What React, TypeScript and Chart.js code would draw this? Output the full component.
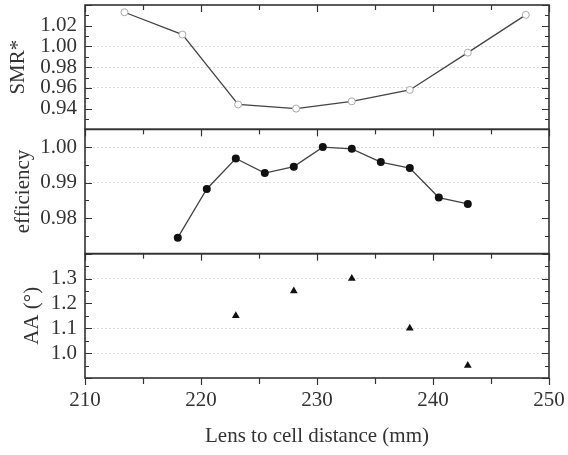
import { useEffect, useRef } from 'react';
import { Chart, registerables } from 'chart.js';
Chart.register(...registerables);

// ---- data ----
const smrX = [213.4, 218.4, 223.2, 228.2, 233, 238, 243, 248];
const smrY = [1.033, 1.0115, 0.944, 0.94, 0.947, 0.958, 0.994, 1.0305];
const effX = [218, 220.5, 223, 225.5, 228, 230.5, 233, 235.5, 238, 240.5, 243];
const effY = [0.9745, 0.9882, 0.9968, 0.9927, 0.9945, 1.0, 0.9995, 0.9958, 0.9941, 0.9858, 0.984];
const aaX = [223, 228, 233, 238, 243];
const aaY = [1.15, 1.25, 1.3, 1.1, 0.95];

const xMin = 210;
const xMax = 250;
const xStep = 10;
const xMinorStep = 5;
const xTitle = 'Lens to cell distance (mm)';

const panelIds = ['y1', 'y2', 'y3'];
const panelTitles = ['SMR*', 'efficiency', 'AA (°)'];
const yMins = [0.92, 0.97, 0.9];
const yMaxs = [1.04, 1.005, 1.4];
const ySteps = [0.02, 0.01, 0.1];
const yMinorSteps = [0.01, 0.005, 0.05];
const yDecimals = [2, 2, 1];
const gridValues = [[1.0, 0.98, 0.96], [1.0, 0.99], [1.3, 1.1, 1.0]];
const titlePads = [6, 11, 20];

const FONT = "'Liberation Serif', 'Times New Roman', serif";
const INK = '#333333';

const framePlugin = {
  id: 'frame',
  afterDraw(chart: any) {
    const ctx = chart.ctx;
    const xs = chart.scales.x;
    const left = xs.left;
    const right = xs.right;
    ctx.save();
    ctx.strokeStyle = INK;
    panelIds.forEach((id, i) => {
      const ys = chart.scales[id];
      const top = ys.top;
      const bottom = ys.bottom;
      ctx.lineWidth = 1.2;
      const n = Math.round((ys.max - ys.min) / yMinorSteps[i]);
      for (let k = 0; k <= n; k++) {
        const v = ys.min + k * yMinorSteps[i];
        const ratio = v / ySteps[i];
        const major = Math.abs(ratio - Math.round(ratio)) < 1e-6;
        const len = major ? 7 : 4;
        const py = Math.round(ys.getPixelForValue(v)) + 0.5;
        ctx.beginPath();
        ctx.moveTo(left, py);
        ctx.lineTo(left + len, py);
        ctx.moveTo(right, py);
        ctx.lineTo(right - len, py);
        ctx.stroke();
      }
      for (let v = xMin; v <= xMax; v += xMinorStep) {
        const major = v % xStep === 0;
        const len = major ? 7 : 5;
        const px = Math.round(xs.getPixelForValue(v)) + 0.5;
        ctx.beginPath();
        ctx.moveTo(px, top);
        ctx.lineTo(px, top + len);
        ctx.stroke();
      }
      ctx.lineWidth = 1.6;
      ctx.strokeRect(left, top, right - left, bottom - top);
    });
    ctx.lineWidth = 1.2;
    const yb = xs.top;
    for (let v = xMin; v <= xMax; v += xMinorStep) {
      const major = v % xStep === 0;
      const len = major ? 7 : 6;
      const px = Math.round(xs.getPixelForValue(v)) + 0.5;
      ctx.beginPath();
      ctx.moveTo(px, yb);
      ctx.lineTo(px, yb + len);
      ctx.stroke();
    }
    ctx.restore();
  },
};

export default function App() {
  const ref = useRef<HTMLCanvasElement | null>(null);

  useEffect(() => {
    document.body.style.margin = '0';
    const canvas = ref.current;
    if (!canvas) return;

    const yScales: any = {};
    // defined bottom panel first so the stack places y1 on top
    [...panelIds].reverse().forEach((id) => {
      const i = panelIds.indexOf(id);
      const eps = ySteps[i] * 1e-3;
      yScales[id] = {
        type: 'linear',
        position: 'left',
        stack: 'panels',
        stackWeight: 1,
        min: yMins[i],
        max: yMaxs[i],
        afterFit: (s: any) => {
          s.width = 85;
          s.paddingTop = 0;
          s.paddingBottom = 0;
        },
        ticks: {
          stepSize: ySteps[i],
          includeBounds: false,
          autoSkip: false,
          padding: 8,
          color: INK,
          font: { family: FONT, size: 21 },
          callback: (value: any) => {
            const v = Number(value);
            if (v <= yMins[i] + eps || v >= yMaxs[i] - eps) return '';
            return v.toFixed(yDecimals[i]);
          },
        },
        grid: {
          drawTicks: false,
          lineWidth: 1,
          color: (c: any) =>
            c.tick && gridValues[i].some((g) => Math.abs(g - c.tick.value) < 1e-6)
              ? '#dadada'
              : 'rgba(0,0,0,0)',
        },
        border: { display: false, dash: [2, 2] },
        title: {
          display: true,
          text: panelTitles[i],
          color: INK,
          font: { family: FONT, size: 21 },
          padding: { top: titlePads[i], bottom: 0 },
        },
      };
    });

    const chart = new Chart(canvas, {
      type: 'line',
      data: {
        datasets: [
          {
            label: 'SMR*',
            yAxisID: 'y1',
            data: smrX.map((x, i) => ({ x, y: smrY[i] })),
            borderColor: '#444',
            borderWidth: 1.3,
            pointStyle: 'circle',
            pointRadius: 3.5,
            pointBorderWidth: 1,
            pointBorderColor: '#a8a8a8',
            pointBackgroundColor: '#ffffff',
            tension: 0,
          },
          {
            label: 'efficiency',
            yAxisID: 'y2',
            data: effX.map((x, i) => ({ x, y: effY[i] })),
            borderColor: '#444',
            borderWidth: 1.3,
            pointStyle: 'circle',
            pointRadius: 4,
            pointBorderWidth: 0,
            pointBackgroundColor: '#111',
            tension: 0,
          },
          {
            label: 'AA',
            yAxisID: 'y3',
            data: aaX.map((x, i) => ({ x, y: aaY[i] })),
            showLine: false,
            pointStyle: 'triangle',
            pointRadius: 4.5,
            pointBorderWidth: 0,
            pointBackgroundColor: '#111',
            borderColor: '#111',
          },
        ],
      },
      options: {
        responsive: false,
        animation: false,
        layout: { padding: { top: 5, right: 19, left: 0, bottom: 0 } },
        plugins: { legend: { display: false }, tooltip: { enabled: false } },
        scales: {
          x: {
            type: 'linear',
            min: xMin,
            max: xMax,
            afterFit: (s: any) => {
              s.height = 77;
              s.paddingLeft = 0;
              s.paddingRight = 0;
            },
            ticks: {
              stepSize: xStep,
              autoSkip: false,
              padding: 10,
              color: INK,
              font: { family: FONT, size: 21 },
              maxRotation: 0,
            },
            grid: { display: false, drawTicks: false },
            border: { display: false },
            title: {
              display: true,
              text: xTitle,
              color: INK,
              font: { family: FONT, size: 21 },
              padding: { top: 0, bottom: 6 },
            },
          },
          ...yScales,
        },
      } as any,
      plugins: [framePlugin],
    });
    return () => chart.destroy();
  }, []);

  return (
    <div style={{ position: 'absolute', left: 0, top: 0, width: 568, height: 455, background: '#fff' }}>
      <canvas ref={ref} width={568} height={455} />
    </div>
  );
}
